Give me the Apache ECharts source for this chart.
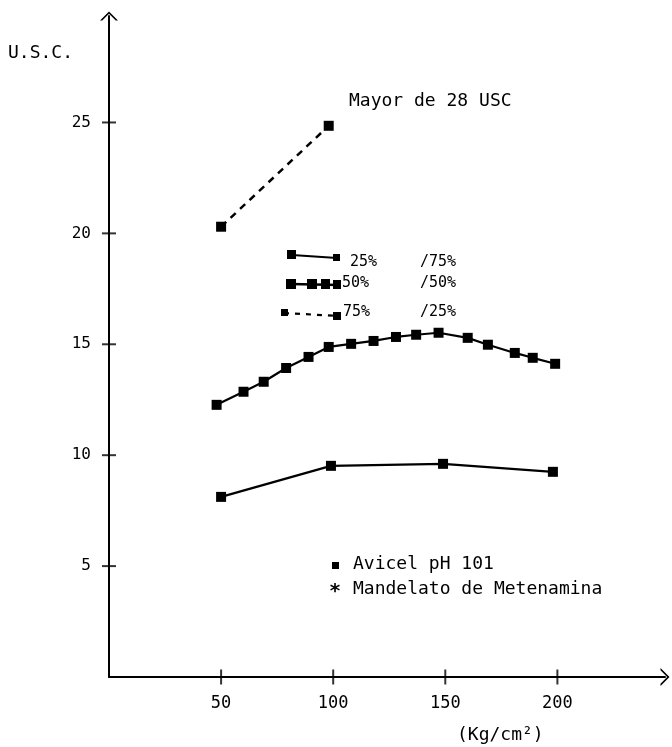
<!DOCTYPE html>
<html>
<head>
<meta charset="utf-8">
<script src="https://cdn.jsdelivr.net/npm/echarts@6/dist/echarts.min.js"></script>
<style>
html,body{margin:0;padding:0;background:#fff;}
#c{width:672px;height:747px;}
</style>
</head>
<body>
<div id="c"></div>
<script>
// ---- data ----
var xTicks = [50, 100, 150, 200];
var yTicks = [5, 10, 15, 20, 25];
// 75% / 25% (dashed)
var s75x = [50, 98];
var s75y = [20.3, 24.85];
// 50% / 50% (markers)
var s50x = [48, 60, 69, 79, 89, 98, 108, 118, 128, 137, 147, 160, 169, 181, 189, 199];
var s50y = [12.27, 12.86, 13.31, 13.93, 14.43, 14.88, 15.02, 15.15, 15.33, 15.43, 15.52, 15.29, 14.98, 14.61, 14.39, 14.12];
// 25% / 75% (solid)
var s25x = [50, 99, 149, 198];
var s25y = [8.12, 9.52, 9.61, 9.25];

var yTitle = 'U.S.C.';
var xTitle = '(Kg/cm²)';
var note = 'Mayor de 28 USC';

function pairs(xs, ys){ return xs.map(function(x,i){ return [x, ys[i]]; }); }

var FONT = 'DejaVu Sans Mono';
var chev = 'path://M0,10 L10,0 L20,10 L17.5,10 L10,2.6 L2.5,10 Z';

var chart = echarts.init(document.getElementById('c'), null, {renderer:'canvas'});

chart.setOption({
  backgroundColor:'#ffffff',
  animation:false,
  grid:{left:109, right:7, top:16, bottom:70, containLabel:false},
  xAxis:{type:'value', min:0, max:248, position:'bottom', splitLine:{show:false},
    axisLine:{show:true, lineStyle:{color:'#000', width:2}, symbol:['none', chev], symbolSize:[18,10]},
    axisTick:{show:false},
    axisLabel:{show:true, margin:18, color:'#000', fontFamily:FONT, fontSize:17, customValues:xTicks}},
  yAxis:{type:'value', min:0, max:29.8, position:'left', splitLine:{show:false},
    axisLine:{show:true, lineStyle:{color:'#000', width:2}, symbol:['none', chev], symbolSize:[18,10]},
    axisTick:{show:false},
    axisLabel:{show:true, margin:18, color:'#000', fontFamily:FONT, fontSize:16, customValues:yTicks}},
  series:[
    // crossing tick marks on the axes
    {type:'scatter', data:yTicks.map(function(v){return [0, v];}), symbol:'rect', symbolSize:[14,2],
      itemStyle:{color:'#000'}, clip:false, silent:true},
    {type:'scatter', data:xTicks.map(function(v){return [v, 0];}), symbol:'rect', symbolSize:[2,15],
      itemStyle:{color:'#000'}, clip:false, silent:true},
    {type:'line', name:'75% / 25%', data:pairs(s75x, s75y),
      symbol:'rect', symbolSize:10, itemStyle:{color:'#000'},
      lineStyle:{color:'#000', width:2.5, type:[7,6]}},
    {type:'line', name:'50% / 50%', data:pairs(s50x, s50y),
      symbol:'rect', symbolSize:10, itemStyle:{color:'#000'},
      lineStyle:{color:'#000', width:2.2}},
    {type:'line', name:'25% / 75%', data:pairs(s25x, s25y),
      symbol:'rect', symbolSize:10, itemStyle:{color:'#000'},
      lineStyle:{color:'#000', width:2.2}}
  ],
  graphic:[
    {type:'text', left:8, top:44, style:{text:yTitle, font:'18px "'+FONT+'"', fill:'#000'}},
    {type:'text', left:457, top:726, style:{text:xTitle, font:'18px "'+FONT+'"', fill:'#000'}},
    {type:'text', left:349, top:92, style:{text:note, font:'18px "'+FONT+'"', fill:'#000'}},
    // legend rows
    {type:'line', shape:{x1:292, y1:255, x2:337, y2:258}, style:{stroke:'#000', lineWidth:2}},
    {type:'rect', shape:{x:287, y:250, width:9, height:9}, style:{fill:'#000'}},
    {type:'rect', shape:{x:333, y:254, width:7, height:7}, style:{fill:'#000'}},
    {type:'text', left:350, top:255, style:{text:'25%', font:'15px "'+FONT+'"', fill:'#000'}},
    {type:'text', left:420, top:255, style:{text:'/75%', font:'15px "'+FONT+'"', fill:'#000'}},

    {type:'line', shape:{x1:290, y1:284, x2:339, y2:285}, style:{stroke:'#000', lineWidth:2.5}},
    {type:'rect', shape:{x:286, y:279, width:10, height:10}, style:{fill:'#000'}},
    {type:'rect', shape:{x:307, y:279, width:10, height:10}, style:{fill:'#000'}},
    {type:'rect', shape:{x:321, y:279, width:9, height:10}, style:{fill:'#000'}},
    {type:'rect', shape:{x:333, y:280, width:8, height:9}, style:{fill:'#000'}},
    {type:'text', left:342, top:276, style:{text:'50%', font:'15px "'+FONT+'"', fill:'#000'}},
    {type:'text', left:420, top:276, style:{text:'/50%', font:'15px "'+FONT+'"', fill:'#000'}},

    {type:'line', shape:{x1:284, y1:313, x2:338, y2:316}, style:{stroke:'#000', lineWidth:2.2, lineDash:[5,6]}},
    {type:'rect', shape:{x:281, y:309, width:7, height:7}, style:{fill:'#000'}},
    {type:'rect', shape:{x:333, y:312, width:8, height:8}, style:{fill:'#000'}},
    {type:'text', left:343, top:305, style:{text:'75%', font:'15px "'+FONT+'"', fill:'#000'}},
    {type:'text', left:420, top:305, style:{text:'/25%', font:'15px "'+FONT+'"', fill:'#000'}},

    // bottom notes
    {type:'rect', shape:{x:332, y:562, width:7, height:7}, style:{fill:'#000'}},
    {type:'text', left:353, top:555, style:{text:'Avicel pH 101', font:'18px "'+FONT+'"', fill:'#000'}},
    {type:'text', left:329, top:582, style:{text:'*', font:'bold 20px "'+FONT+'"', fill:'#000'}},
    {type:'text', left:353, top:580, style:{text:'Mandelato de Metenamina', font:'18px "'+FONT+'"', fill:'#000'}}
  ]
});
</script>
</body>
</html>
